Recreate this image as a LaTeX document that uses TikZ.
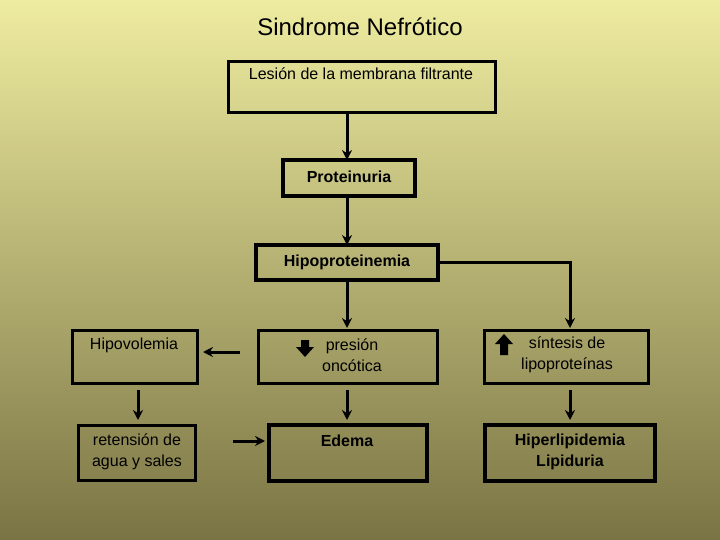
\documentclass[tikz,border=0pt]{standalone}
\usepackage{fontspec}
\setmainfont{Liberation Sans}
\usetikzlibrary{arrows.meta}
\tikzset{
  box/.style={draw=black, line width=3pt, inner sep=0pt},
  thickbox/.style={draw=black, line width=4.5pt, inner sep=0pt},
  lbl/.style={font=\fontsize{16}{21}\selectfont, align=center},
  arr/.style={line width=3pt, -{Stealth[length=10pt,width=10pt]}}
}
\begin{document}
\begin{tikzpicture}[x=1pt,y=-1pt]

\shade[top color={rgb,255:red,238;green,236;blue,160}, bottom color={rgb,255:red,122;green,116;blue,68}] (0,0) rectangle (720,540);
\useasboundingbox (0,0) rectangle (720,540);

\node (title) at (360,27) {\fontsize{24}{26}\selectfont Sindrome Nefrótico};

\draw[box] (228,62) rectangle (495,113);
\node[lbl] (les) at (361,74) {Lesión de la membrana filtrante};
\draw[thickbox] (283,160) rectangle (415,196);
\node[lbl] (prot) at (349,177) {\bfseries Proteinuria};
\draw[thickbox] (256,245) rectangle (438,280);
\node[lbl] (hipo) at (347,262) {\bfseries Hipoproteinemia};

\draw[box] (72,330) rectangle (197,383);
\node[lbl] (hvol) at (134,345) {Hipovolemia};
\draw[box] (258,330) rectangle (437,383);
\node[lbl] (pres) at (352,355) {presión\\oncótica};
\draw[box] (484,330) rectangle (648,383);
\node[lbl] (sint) at (567,355) {síntesis de\\lipoproteínas};

\draw[box] (78,425) rectangle (195,480);
\node[lbl] (ret) at (137,452) {retensión de\\agua y sales};
\draw[thickbox] (269,425) rectangle (427,481);
\node[lbl] (ede) at (347,441) {\bfseries Edema};
\draw[thickbox] (485,425) rectangle (655,481);
\node[lbl] (hiper) at (570,452) {\bfseries Hiperlipidemia\\\bfseries Lipiduria};

% flechas de sentido
\fill (301,340) -- (309,340) -- (309,347) -- (314,347) -- (305,357) -- (296,347) -- (301,347) -- cycle;
\fill (500,355) -- (508,355) -- (508,344) -- (513,344) -- (504,334) -- (495,344) -- (500,344) -- cycle;

\coordinate (a1) at (347,113);
\coordinate (a2) at (347,160);
\coordinate (b1) at (347,196);
\coordinate (b2) at (347,245);
\coordinate (c1) at (347,280);
\coordinate (c2) at (347,328);
\coordinate (d1) at (440,262);
\coordinate (d2) at (570,328);
\coordinate (e1) at (240,352);
\coordinate (e2) at (203,352);
\coordinate (f1) at (138,390);
\coordinate (f2) at (138,420);
\coordinate (g1) at (233,441);
\coordinate (g2) at (265,441);
\coordinate (h1) at (347,390);
\coordinate (h2) at (347,420);
\coordinate (k1) at (570,390);
\coordinate (k2) at (570,420);

\draw[arr] (a1) -- (a2);
\draw[arr] (b1) -- (b2);
\draw[arr] (c1) -- (c2);
\draw[arr] (d1) -| (d2);
\draw[arr] (e1) -- (e2);
\draw[arr] (f1) -- (f2);
\draw[arr] (g1) -- (g2);
\draw[arr] (h1) -- (h2);
\draw[arr] (k1) -- (k2);

\end{tikzpicture}
\end{document}
